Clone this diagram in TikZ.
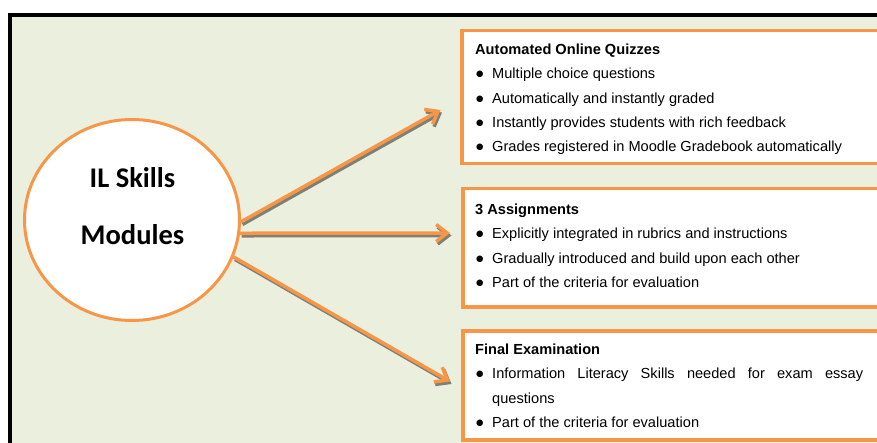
\documentclass[tikz,border=0pt]{standalone}
\usepackage{fontspec}
\setmainfont{Liberation Sans}
\newfontfamily\calibri{Carlito}
\newfontfamily\dejavu{DejaVu Sans}
\usetikzlibrary{arrows.meta,shapes.geometric}
\definecolor{bgfill}{RGB}{235,239,222}
\definecolor{accorange}{RGB}{247,150,70}
\definecolor{arrshade}{RGB}{125,128,118}
\newcommand{\itm}{\makebox[17pt][l]{\hspace{1pt}\raisebox{2pt}{\dejavu\fontsize{8.5}{0}\selectfont ●}}}

\begin{document}
\begin{tikzpicture}[x=1pt, y=-1pt,
      modtxt/.style={font=\calibri\bfseries\fontsize{28.5}{30}\selectfont, inner sep=0, anchor=base},
      infobox/.style={draw=accorange, line width=3.5pt, fill=white, anchor=north west,
                      minimum width=430pt, inner sep=0},
      boxtxt/.style={anchor=north west, align=left, inner sep=0,
                     font=\fontsize{14.6}{24.4}\selectfont},
      arrtip/.style={-{Straight Barb[length=11pt, width=17pt]}, line width=3.5pt},
      arrshadow/.style={arrtip, draw=arrshade},
      arr/.style={arrtip, draw=accorange}]
    \useasboundingbox (0,0) rectangle (877,443);
    \draw[line width=4pt, fill=bgfill] (10.3,14.7) rectangle (900,470);
    \node[ellipse, draw=accorange, fill=white, line width=3pt, minimum width=215pt,
          minimum height=201pt, inner sep=0] (mod) at (132,220) {};
    \node[modtxt] (il) at (132.5,188) {IL Skills};
    \node[modtxt] (mods) at (132.5,245) {Modules};
    \node[infobox, minimum height=133pt] (quiz) at (460,29) {};
    \node[infobox, minimum height=118pt] (asg) at (461,187) {};
    \node[infobox, minimum height=109pt] (exam) at (461,329) {};
    \node[boxtxt] (quiztxt) at (475,43.5) {\textbf{Automated Online Quizzes}\\
      \itm Multiple choice questions\\
      \itm Automatically and instantly graded\\
      \itm Instantly provides students with rich feedback\\
      \itm Grades registered in Moodle Gradebook automatically};
    \node[boxtxt] (asgtxt) at (475,203.5) {\textbf{3 Assignments}\\
      \itm Explicitly integrated in rubrics and instructions\\
      \itm Gradually introduced and build upon each other\\
      \itm Part of the criteria for evaluation};
    \node[boxtxt] (examtxt) at (475,343.5) {\textbf{Final Examination}\\
      \itm\makebox[371pt][s]{Information Literacy Skills needed for exam essay}\\
      \makebox[17pt]{}questions\\
      \itm Part of the criteria for evaluation};
    \coordinate (quizin) at (440.5,110);
    \coordinate (asgin) at (450,233);
    \coordinate (examin) at (450,381.5);
    \foreach \from/\to in {-1/quizin, -7/asgin, -20/examin} {
      \draw[arrshadow] ([shift={(1.5,2.5)}]mod.\from) -- ([shift={(1.5,2.5)}]\to);
      \draw[arr] (mod.\from) -- (\to);
    }
  \end{tikzpicture}
\end{document}
